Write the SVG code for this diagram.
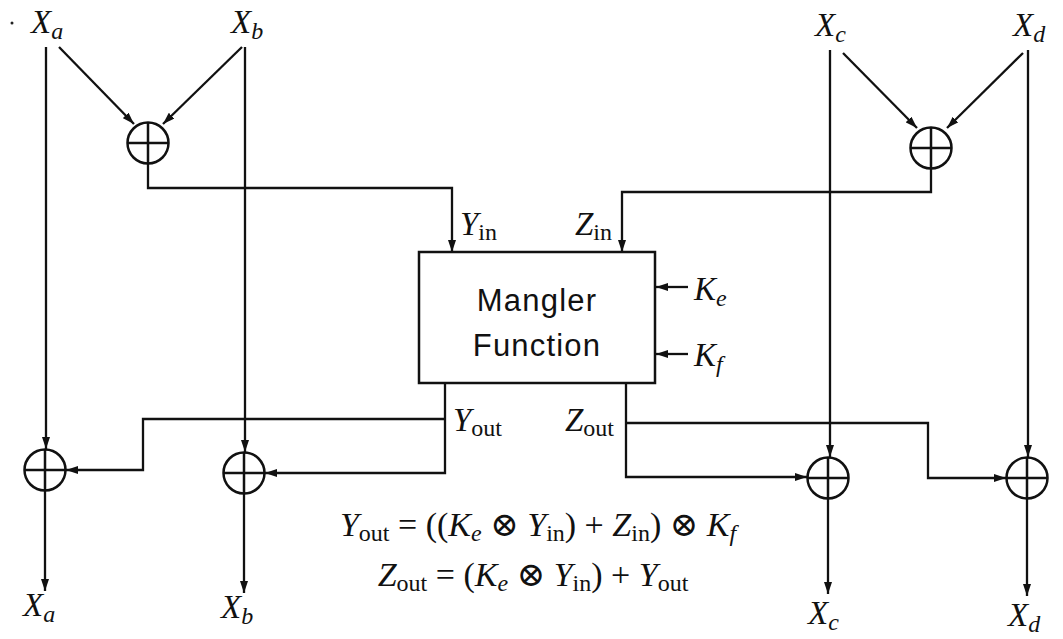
<svg xmlns="http://www.w3.org/2000/svg" width="1063" height="639" viewBox="0 0 1063 639">
<style>
.ar{fill:none;stroke:#111;stroke-width:2.3;marker-end:url(#ah)}
.pc{fill:#fff;stroke:#111;stroke-width:2.5}
.pp{stroke:#111;stroke-width:2.5;fill:none}
text{font-family:"Liberation Serif","DejaVu Serif",serif;fill:#111;white-space:pre}
.v{font-size:33px}
.e{font-size:34px}
.i{font-style:italic}
.s{font-size:24px}
.box{fill:#fff;stroke:#111;stroke-width:2.5}
.bt{font-family:"Liberation Sans",Arial,sans-serif;font-size:31px;letter-spacing:1.2px}
</style>
<defs>
<marker id="ah" viewBox="0 0 12 8" refX="12" refY="4" markerWidth="12" markerHeight="8" markerUnits="userSpaceOnUse" orient="auto">
<path d="M0,0 L12,4 L0,8 Z" fill="#111"/>
</marker>
<g id="plus"><circle class="pc" r="20.5"/><path class="pp" d="M-20,0 H20 M0,-20 V20"/></g>
</defs>
<rect width="1063" height="639" fill="#fff"/>
<circle cx="12" cy="23" r="1.5" fill="#222"/>

<g id="connectors">
<path class="ar" d="M59,47 L134,124"/>
<path class="ar" d="M242,47 L163,124"/>
<path class="ar" d="M148,164 V188 H452 V252"/>
<path class="ar" d="M46,47 V449"/>
<path class="ar" d="M245,47 V452"/>
<path class="ar" d="M843,53 L917,128"/>
<path class="ar" d="M1023,53 L947,128"/>
<path class="ar" d="M931,169 V192 H622 V252"/>
<path class="ar" d="M830,50 V457"/>
<path class="ar" d="M1028,50 V457"/>
<path class="ar" d="M688,287 H656"/>
<path class="ar" d="M688,354 H656"/>
<path class="ar" d="M445,383 V473 H265"/>
<path class="ar" d="M445,419 H143 V470 H66"/>
<path class="ar" d="M626,383 V477 H807"/>
<path class="ar" d="M626,423 H928 V478 H1006"/>
<path class="ar" d="M45,491 V591"/>
<path class="ar" d="M244,494 V593"/>
<path class="ar" d="M828,499 V594"/>
<path class="ar" d="M1027,499 V596"/>
</g>

<g id="addTL"><use href="#plus" x="148" y="143"/></g>
<g id="addTR"><use href="#plus" x="931" y="148"/></g>
<g id="addA"><use href="#plus" x="45" y="470"/></g>
<g id="addB"><use href="#plus" x="244" y="473"/></g>
<g id="addC"><use href="#plus" x="828" y="478"/></g>
<g id="addD"><use href="#plus" x="1027" y="478"/></g>

<g id="mangler">
<rect class="box" x="419" y="252" width="236" height="131"/>
<text class="bt" x="537" y="311" text-anchor="middle">Mangler</text>
<text class="bt" x="537" y="356" text-anchor="middle">Function</text>
</g>

<g id="labels">
<text class="v" x="31" y="33"><tspan class="i">X</tspan><tspan class="s i" dy="6">a</tspan></text>
<text class="v" x="231" y="33"><tspan class="i">X</tspan><tspan class="s i" dy="6">b</tspan></text>
<text class="v" x="815" y="36"><tspan class="i">X</tspan><tspan class="s i" dy="6">c</tspan></text>
<text class="v" x="1013" y="36"><tspan class="i">X</tspan><tspan class="s i" dy="6">d</tspan></text>
<text class="v" x="23" y="616"><tspan class="i">X</tspan><tspan class="s i" dy="6">a</tspan></text>
<text class="v" x="221" y="618"><tspan class="i">X</tspan><tspan class="s i" dy="6">b</tspan></text>
<text class="v" x="808" y="624"><tspan class="i">X</tspan><tspan class="s i" dy="6">c</tspan></text>
<text class="v" x="1008" y="626"><tspan class="i">X</tspan><tspan class="s i" dy="6">d</tspan></text>
<text class="v" x="460" y="235"><tspan class="i">Y</tspan><tspan class="s" dy="5">in</tspan></text>
<text class="v" x="575" y="235"><tspan class="i">Z</tspan><tspan class="s" dy="5">in</tspan></text>
<text class="v" x="694" y="300"><tspan class="i">K</tspan><tspan class="s i" dy="6">e</tspan></text>
<text class="v" x="694" y="366"><tspan class="i">K</tspan><tspan class="s i" dy="6">f</tspan></text>
<text class="v" x="453" y="431"><tspan class="i">Y</tspan><tspan class="s" dy="5">out</tspan></text>
<text class="v" x="565" y="431"><tspan class="i">Z</tspan><tspan class="s" dy="5">out</tspan></text>
</g>

<g id="equations">
<text class="e" x="538" y="536" text-anchor="middle"><tspan class="i">Y</tspan><tspan class="s" dy="5">out</tspan><tspan dy="-5"> = ((</tspan><tspan class="i">K</tspan><tspan class="s i" dy="5">e</tspan><tspan dy="-5"> ⊗ </tspan><tspan class="i">Y</tspan><tspan class="s" dy="5">in</tspan><tspan dy="-5">) + </tspan><tspan class="i">Z</tspan><tspan class="s" dy="5">in</tspan><tspan dy="-5">) ⊗ </tspan><tspan class="i">K</tspan><tspan class="s i" dy="5">f</tspan></text>
<text class="e" x="533" y="586" text-anchor="middle"><tspan class="i">Z</tspan><tspan class="s" dy="5">out</tspan><tspan dy="-5"> = (</tspan><tspan class="i">K</tspan><tspan class="s i" dy="5">e</tspan><tspan dy="-5"> ⊗ </tspan><tspan class="i">Y</tspan><tspan class="s" dy="5">in</tspan><tspan dy="-5">) + </tspan><tspan class="i">Y</tspan><tspan class="s" dy="5">out</tspan></text>
</g>
</svg>
